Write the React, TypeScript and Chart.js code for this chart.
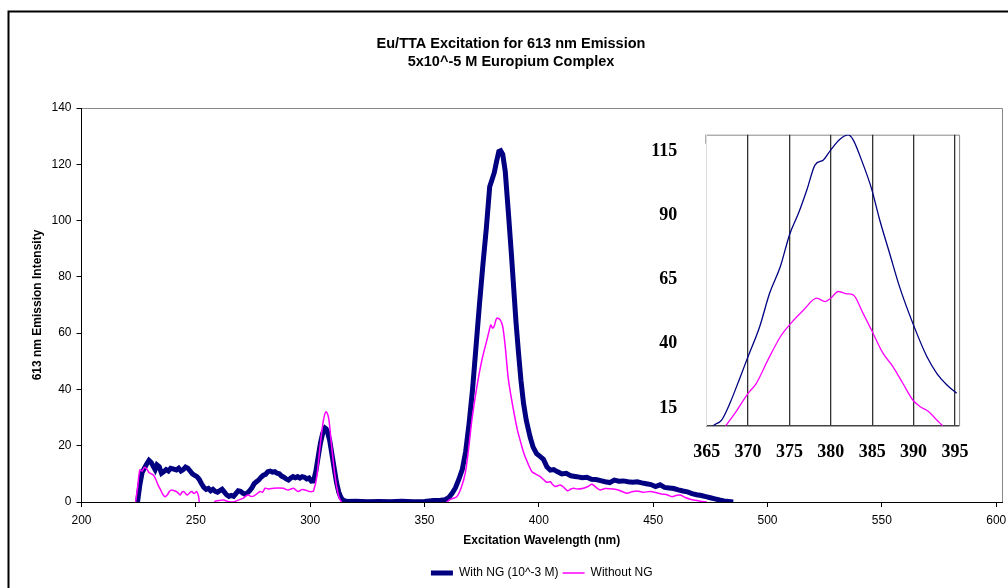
import React, { useEffect, useRef } from 'react';
import { Chart, registerables } from 'chart.js';

Chart.register(...registerables);

// ---------- data ----------
const titleLines = ['Eu/TTA Excitation for 613 nm Emission', '5x10^-5 M Europium Complex'];
const seriesLabels = ['With NG (10^-3 M)', 'Without NG'];
const xAxisTitle = 'Excitation Wavelength (nm)';
const yAxisTitle = '613 nm Emission Intensity';

const xTicks = [200, 250, 300, 350, 400, 450, 500, 550, 600];
const yTicks = [0, 20, 40, 60, 80, 100, 120, 140];
const insetXTicks = [365, 370, 375, 380, 385, 390, 395];
const insetYTicks = [15, 40, 65, 90, 115];

const withNgX = [
  224.5, 225.5, 226.5, 227.5, 228.5, 229.5, 230.5, 231.5, 232.2, 233, 234, 235, 236, 237, 238, 239, 240,
  241.5, 242.5, 243.5, 244.5, 245.5, 246.5, 247.5, 248.5, 249.5, 250.5, 251.5, 252.5, 253.5, 254.5, 255.5,
  256.5, 257.5, 258.5, 259.5, 260.5, 261.5, 262.5, 263.5, 264.5, 265.5, 266.5, 267.5, 268.5, 269.5, 270.5,
  271.5, 272.5, 273.5, 274.5, 275.5, 276.5, 277.5, 278.5, 279.5, 280.5, 281.5, 282.5, 283.5, 284.5, 285.5,
  286.5, 287.5, 288.5, 289.5, 290.5, 291.5, 292.5, 293.5, 294.5, 295.5, 296.5, 297.5, 298.5, 299.5, 300.5,
  301.5, 302.5, 303.5, 304.5, 305.5, 306.5, 307, 307.5, 308.5, 309.5, 310.5, 311.5, 312.5, 313.5, 314.5,
  316, 320, 325, 330, 335, 340, 345, 350, 354, 357, 359, 360.5, 362, 363.5, 365, 366.5, 368, 369.5, 371,
  372.5, 374, 375.5, 377, 378.5, 379.5, 380.5, 381.5, 382.5, 383.3, 384.2, 385.3, 386.7, 388, 389, 390,
  391.1, 392.2, 393.3, 394.5, 396.2, 397.5, 399, 400.5, 402, 403.5, 405, 406.5, 408, 410, 412, 414, 416.5,
  419, 421, 423, 425, 427, 429, 431, 433, 435, 437, 439, 441, 443, 445, 447, 449, 451, 453, 455, 457, 459,
  461, 463, 465, 467, 469, 471, 473, 475, 477, 479, 481, 483, 485,
];
const withNgY = [
  0, 6, 10.5, 12, 13.5, 14.8, 14, 12.5, 11.5, 13.2, 12.5, 10.2, 10.8, 11.5, 11, 12, 11.8,
  11.4, 12, 11, 11.5, 12.4, 12, 11, 10, 9.5, 9, 8, 6.5, 5.2, 4.5, 4.8,
  4, 4.5, 3.8, 3.5, 4, 4.5, 3.5, 2.5, 2, 2.3, 2, 3, 4, 3.8, 3.2,
  2.8, 3.2, 4, 5, 6.5, 7.2, 7.8, 8.8, 9.5, 9.8, 10.8, 11, 10.6, 10.8, 10.2,
  10, 9.2, 8.8, 8.2, 7.8, 8.5, 9, 8.6, 9, 8.5, 9, 8.8, 8.2, 8.5, 7.4,
  7.5, 11, 16, 21, 24.5, 26.3, 26, 25, 22, 17, 12, 7, 3.5, 1.5, 0.6,
  0.2, 0.3, 0.1, 0.2, 0.1, 0.3, 0.1, 0.2, 0.5, 0.6, 0.8, 1.5, 3, 5, 8, 11.5, 18, 28, 40,
  55, 70, 84, 97, 112, 114.5, 117, 121, 124.5, 124.8, 123.5, 117.5, 102.5, 88, 76, 64,
  53, 43, 35, 29, 23, 19.5, 17.2, 16.2, 15.2, 12.5, 11.3, 11.5, 10.8, 10, 10.2, 9.3, 9,
  8.6, 8.8, 8.1, 8, 7.6, 7.2, 6.9, 7.8, 7.4, 7.5, 7.2, 7, 7.2, 6.8, 6.5, 6.2, 5.5, 6.1, 5.2, 5, 4.8,
  4.3, 3.9, 3.6, 3, 2.6, 2.3, 1.9, 1.5, 1.1, 0.7, 0.4, 0.2, 0,
];

const withoutNgX = [
  223.5, 224.5, 225.5, 226.5, 227.5, 228.5, 229.5, 230.5, 231.5, 232.5, 233.5, 234.5, 235.5, 236.5, 237.5,
  238.5, 239.5, 240.5, 241.5, 242.5, 243.1, 244, 244.8, 245.5, 246.3, 247.2, 248.2, 249.2, 250.4, 251.2,
  252, 257.5, 258.5, 260, 262, 264, 266.4, 268, 270.8, 272, 273, 274, 275.2, 276.5, 278.1, 279.2, 280.3,
  282, 283.9, 286, 288.3, 289.5, 290.5, 291.5, 292.7, 293.8, 294.8, 296.3, 297.8, 299.3, 300.7, 301.5,
  302.9, 304.3, 305.8, 307, 308.1, 309.4, 310.9, 312.3, 313.3, 315, 358, 361, 364.1, 366, 367.8, 369.3,
  370.7, 372.9, 375.1, 377.3, 378.3, 379, 379.7, 380.4, 381.6, 383.1, 384.2, 385.3, 386.7, 388.9, 390.5,
  391.8, 393, 394, 396.9, 398.5, 400.6, 402, 403.5, 405, 406, 407.1, 408.3, 409.3, 410.5, 412.5, 414,
  415.1, 417, 419.5, 421.5, 423.2, 425, 426.8, 429, 432.6, 435, 438.5, 440.5, 442.9, 445.5, 448.7, 451,
  453.8, 456, 458.2, 460, 461.8, 464, 466.2, 468.5, 470.6, 473.5,
];
const withoutNgY = [
  -1, 5, 11.4, 11, 12.3, 11.8, 10.5, 10, 9.5, 8, 6, 4.5, 2.8, 1.9, 2.5,
  3.8, 4.3, 4, 3.7, 3, 2.5, 3.5, 3.7, 3, 2.5, 3.2, 3.7, 3, 3.7, 2,
  -1, -1, 0.3, 0.5, 0.7, 0.2, 0, 0.5, 1.4, 2.2, 2.5, 2, 2.1, 2.8, 3.7, 3.5, 4.9,
  4.6, 4.9, 5, 4.9, 4.4, 4.3, 4.6, 4.9, 4.2, 3.7, 4.4, 4.3, 3.8, 3.7, 4,
  9, 19.7, 29.1, 32.1, 29.7, 19.7, 9, 2.5, 0.5, -1, -1, 0.8, 1.9, 5, 10.2, 19,
  29.1, 41, 50.5, 57.6, 61, 62.9, 61.8, 62.3, 65.3, 64.7, 62.3, 55.2, 43.4, 32.7, 26,
  22, 18.5, 16.1, 10.8, 10, 9, 8, 7, 7.2, 6.2, 5.5, 5.8, 6, 5.5, 4, 4.6,
  4.9, 4.6, 4.9, 5.5, 6.3, 5.2, 4.3, 4.8, 4.6, 4.2, 3.1, 3.6, 3.9, 3.5, 3.7, 3.4,
  2.8, 2.6, 1.9, 2.3, 2.5, 1.6, 1, 0.6, 0.3, 0,
];

const insetWithNgX = [
  365.3, 365.8, 366.8, 367.8, 369, 370, 371.4, 372.6, 373.9, 375, 376.1, 377.1, 378.1, 379.1, 380, 381.1,
  382.1, 382.7, 383.7, 384.9, 385.9, 387.1, 388.3, 389.9, 391.6, 392.8, 394, 395.2,
];
const insetWithNgY = [
  6, 8.1, 10.3, 16.8, 26.6, 35, 46.6, 59.6, 70, 82.3, 90.8, 99.8, 109.6, 111.5, 115.4, 119.5,
  121.2, 119.3, 111.5, 100.5, 88.2, 75.2, 62.2, 48, 35, 28.5, 24, 20.7,
];
const insetWithoutNgX = [
  366.8, 367.3, 368.4, 370, 371, 372.4, 373.9, 375, 376.7, 378.3, 379.3, 380, 380.9, 381.9, 382.7, 383.9,
  384.9, 386.3, 387.5, 388.7, 389.9, 390.8, 391.8, 392.8, 393.5, 394,
];
const insetWithoutNgY = [
  6, 8.1, 12.9, 20.7, 24.6, 33.7, 42.7, 47.3, 53.1, 57.7, 56.4, 57.7, 60.3, 59.4, 59, 51.8,
  45.4, 36.3, 31.1, 24.6, 18.1, 15.5, 13.6, 10.3, 8.1, 6,
];

// ---------- helpers ----------
const zip = (xs: number[], ys: number[]) => xs.map((x, i) => ({ x, y: ys[i] }));
const SANS = 'Liberation Sans, Arial, sans-serif';
const SERIF = 'Liberation Serif, Times New Roman, serif';

const mainFrame = {
  id: 'mainFrame',
  beforeDraw(chart: any) {
    const { ctx, chartArea } = chart;
    const { left, top, right, bottom } = chartArea;
    ctx.save();
    ctx.fillStyle = '#ffffff';
    ctx.fillRect(0, 0, chart.width, chart.height);
    ctx.strokeStyle = '#000000';
    ctx.lineWidth = 2;
    ctx.strokeRect(8.5, 11.5, 1200, 1000);
    ctx.strokeStyle = '#888888';
    ctx.lineWidth = 1;
    ctx.beginPath();
    ctx.moveTo(left, top + 0.5);
    ctx.lineTo(right + 0.5, top + 0.5);
    ctx.lineTo(right + 0.5, bottom);
    ctx.stroke();
    ctx.restore();
  },
};

const insetFrame = {
  id: 'insetFrame',
  beforeDraw(chart: any) {
    const { ctx, chartArea } = chart;
    const { left, top, right, bottom } = chartArea;
    ctx.save();
    ctx.strokeStyle = '#888888';
    ctx.lineWidth = 1;
    ctx.beginPath();
    ctx.moveTo(left, top + 0.5);
    ctx.lineTo(right + 0.5, top + 0.5);
    ctx.lineTo(right + 0.5, bottom);
    ctx.stroke();
    ctx.strokeStyle = '#000000';
    ctx.beginPath();
    ctx.moveTo(left - 0.5, top);
    ctx.lineTo(left - 0.5, top + 9);
    ctx.stroke();
    ctx.restore();
  },
};

export default function App() {
  const mainRef = useRef<HTMLCanvasElement>(null);
  const insetRef = useRef<HTMLCanvasElement>(null);

  useEffect(() => {
    const tickFont = { family: SANS, size: 12 };
    const main = new Chart(mainRef.current as HTMLCanvasElement, {
      type: 'line',
      data: {
        datasets: [
          {
            label: seriesLabels[0],
            data: zip(withNgX, withNgY),
            borderColor: '#000080',
            backgroundColor: '#000080',
            borderWidth: 5,
            pointRadius: 0,
            tension: 0,
            order: 2,
          },
          {
            label: seriesLabels[1],
            data: zip(withoutNgX, withoutNgY),
            borderColor: '#FF00FF',
            backgroundColor: '#FF00FF',
            borderWidth: 1.5,
            pointRadius: 0,
            tension: 0.3,
            order: 1,
          },
        ],
      },
      options: {
        animation: false,
        responsive: false,
        maintainAspectRatio: false,
        layout: { padding: { left: 20, top: 0, right: 6, bottom: 0 } },
        plugins: {
          title: {
            display: true,
            text: titleLines,
            color: '#000',
            font: { family: SANS, size: 14.5, weight: 'bold', lineHeight: '18px' } as any,
            padding: { top: 35, bottom: 37 },
          },
          legend: {
            display: true,
            position: 'bottom',
            fullSize: false,
            maxHeight: 25,
            labels: {
              usePointStyle: true,
              pointStyle: 'line',
              pointStyleWidth: 22,
              padding: 4,
              color: '#000',
              font: { family: SANS, size: 12 },
              sort: (a: any, b: any) => a.datasetIndex - b.datasetIndex,
            },
          } as any,
          tooltip: { enabled: false },
        },
        scales: {
          x: {
            type: 'linear',
            min: 200,
            max: 602.53,
            afterBuildTicks: (s: any) => {
              s.ticks = xTicks.map((v) => ({ value: v }));
            },
            afterFit: (s: any) => {
              s.height = 61;
              s.paddingLeft = 0;
              s.paddingRight = 0;
            },
            ticks: { color: '#000', font: tickFont, padding: 6, maxRotation: 0, autoSkip: false },
            grid: { drawOnChartArea: false, drawTicks: true, tickLength: 5, color: '#000' },
            border: { color: '#000', width: 1 },
            title: {
              display: true,
              text: xAxisTitle,
              color: '#000',
              font: { family: SANS, size: 12, weight: 'bold' },
              padding: { top: 0, bottom: 14.8 },
            },
          },
          y: {
            type: 'linear',
            min: 0,
            max: 140,
            afterBuildTicks: (s: any) => {
              s.ticks = yTicks.map((v) => ({ value: v }));
            },
            afterFit: (s: any) => {
              s.width = 61.5;
              s.paddingTop = 0;
              s.paddingBottom = 0;
            },
            ticks: { color: '#000', font: tickFont, padding: 5, autoSkip: false },
            grid: { drawOnChartArea: false, drawTicks: true, tickLength: 5, color: '#000' },
            border: { color: '#000', width: 1 },
            title: {
              display: true,
              text: yAxisTitle,
              color: '#000',
              font: { family: SANS, size: 12, weight: 'bold' },
              padding: { top: 10.8, bottom: 0 },
            },
          },
        },
      } as any,
      plugins: [mainFrame],
    });

    const insetFont = { family: SERIF, size: 18, weight: 'bold' as const };
    const inset = new Chart(insetRef.current as HTMLCanvasElement, {
      type: 'line',
      data: {
        datasets: [
          {
            label: seriesLabels[0],
            data: zip(insetWithNgX, insetWithNgY),
            borderColor: '#000080',
            borderWidth: 1.3,
            pointRadius: 0,
            tension: 0.4,
            cubicInterpolationMode: 'monotone',
          },
          {
            label: seriesLabels[1],
            data: zip(insetWithoutNgX, insetWithoutNgY),
            borderColor: '#FF00FF',
            borderWidth: 1.3,
            pointRadius: 0,
            tension: 0.4,
            cubicInterpolationMode: 'monotone',
          },
        ],
      },
      options: {
        animation: false,
        responsive: false,
        maintainAspectRatio: false,
        layout: { padding: { left: 0, top: 24.7, right: 40.9, bottom: 0 } },
        plugins: { legend: { display: false }, title: { display: false }, tooltip: { enabled: false } },
        scales: {
          x: {
            type: 'linear',
            min: 365,
            max: 395.5,
            afterBuildTicks: (s: any) => {
              s.ticks = insetXTicks.map((v) => ({ value: v }));
            },
            afterFit: (s: any) => {
              s.height = 54.3;
              s.paddingLeft = 0;
              s.paddingRight = 0;
            },
            ticks: { color: '#000', font: insetFont, padding: 15.5, maxRotation: 0, autoSkip: false },
            grid: {
              drawOnChartArea: true,
              drawTicks: false,
              lineWidth: 1.3,
              color: (c: any) => (c.tick && c.tick.value === 365 ? 'rgba(0,0,0,0)' : '#333333'),
            },
            border: { color: '#444444', width: 1.5 },
          },
          y: {
            type: 'linear',
            min: 8.1,
            max: 121.3,
            afterBuildTicks: (s: any) => {
              s.ticks = insetYTicks.map((v) => ({ value: v }));
            },
            afterFit: (s: any) => {
              s.width = 76.7;
              s.paddingTop = 0;
              s.paddingBottom = 0;
            },
            ticks: { color: '#000', font: insetFont, padding: 29.4, autoSkip: false },
            grid: { drawOnChartArea: false, drawTicks: false },
            border: { color: '#dddddd', width: 1 },
          },
        },
      } as any,
      plugins: [insetFrame],
    });

    return () => {
      main.destroy();
      inset.destroy();
    };
  }, []);

  return (
    <div
      style={{
        position: 'absolute',
        left: 0,
        top: 0,
        width: 1008,
        height: 588,
        background: '#fff',
        overflow: 'hidden',
      }}
    >
      <canvas
        ref={mainRef}
        width={1008}
        height={588}
        style={{ position: 'absolute', left: 0, top: 0, width: 1008, height: 588 }}
      />
      <canvas
        ref={insetRef}
        width={370}
        height={370}
        style={{ position: 'absolute', left: 630, top: 110, width: 370, height: 370 }}
      />
    </div>
  );
}
